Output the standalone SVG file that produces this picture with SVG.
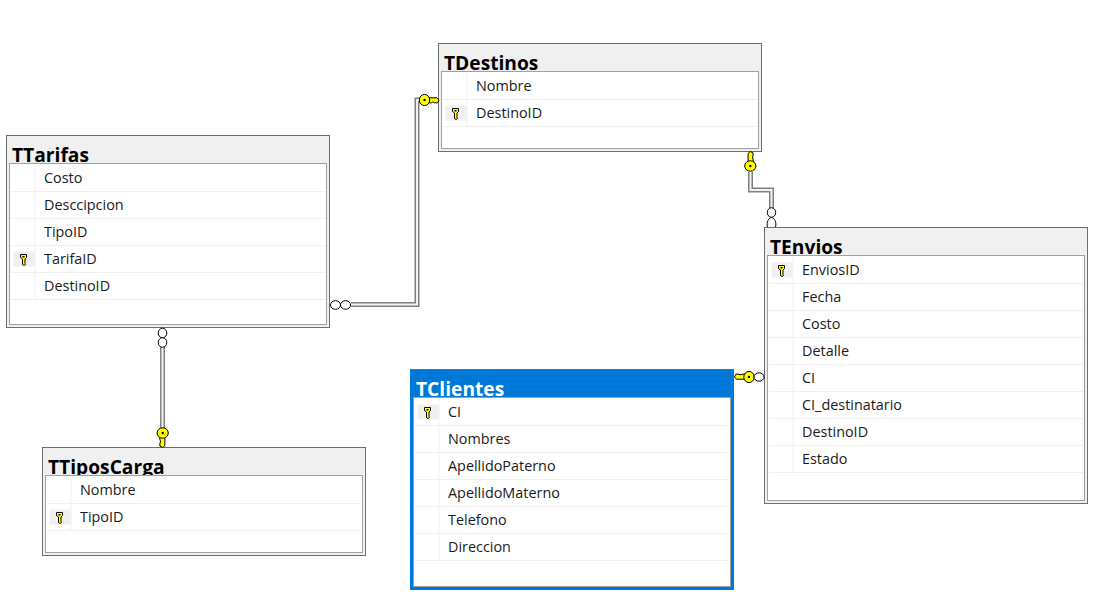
<svg xmlns="http://www.w3.org/2000/svg" width="1110" height="602" viewBox="0 0 1110 602">
<style>
.outer{fill:#f0f0f0;stroke:#6e6e6e;stroke-width:1}
.frame{fill:#fff;stroke:#a0a0a0;stroke-width:1}
.sep{stroke:#f0f0f0;stroke-width:1;fill:none}
.title{font-family:"Open Sans","Noto Sans",sans-serif;font-weight:700;font-size:19.2px;fill:#000}
.row{font-family:"Open Sans","Noto Sans",sans-serif;font-size:14.4px;fill:#1a1a1a}
.k{fill:#ffff00;stroke:#000;stroke-width:1}
.o{fill:#fff;stroke:#000;stroke-width:1}
.c1{fill:none;stroke:#808080;stroke-width:5}
.c2{fill:none;stroke:#f2f2f2;stroke-width:2}
</style>
<defs>
<g id="key"><path class="k" d="M3,-2.2H12.5L14.5,0L13,2.8H10L9,2.2H8L7,2.8H3Z"/><ellipse class="k" rx="5.2" ry="5.6"/><circle r="1.2" fill="#000"/></g>
<g id="rowkey"><rect x="-10" y="-7.5" width="21" height="15" fill="#f0f0f0"/><path class="k" d="M-3,-4.5H3V-1.5L1.5,0V4.5L2,5.5L.5,6.5L-1,5.5V0L-3,-1.5Z"/><rect x="-1" y="-3" width="2" height="1.5" fill="#000"/></g>
</defs>
<g id="connectors">
<path class="c1" d="M351,304.5H417V100H420"/><path class="c2" d="M351,304.5H417V100H420"/>
<path class="c1" d="M750.5,172V190H771.5V208"/><path class="c2" d="M750.5,172V190H771.5V208"/>
<path class="c1" d="M162.5,347V428"/><path class="c2" d="M162.5,347V428"/>
</g>
<g id="TDestinos" transform="translate(438.5,43.5)">
<rect class="outer" width="323" height="108"/>
<text class="title" x="5.5" y="26.5">TDestinos</text>
<rect class="frame" x="3" y="28" width="317" height="77"/>
<path class="sep" d="M4,56H319M4,83H319M28.5,29V83"/>
<text class="row" x="37.5" y="47.5">Nombre</text>
<text class="row" x="37.5" y="74.5">DestinoID</text>
<use href="#rowkey" x="17" y="69.5"/>
</g>
<g id="TTarifas" transform="translate(6.5,135.5)">
<rect class="outer" width="323" height="192"/>
<text class="title" x="5.5" y="26.5">TTarifas</text>
<rect class="frame" x="3" y="28" width="317" height="161"/>
<path class="sep" d="M4,56H319M4,83H319M4,110H319M4,137H319M4,164H319M28.5,29V164"/>
<text class="row" x="37.5" y="47.5">Costo</text>
<text class="row" x="37.5" y="74.5">Desccipcion</text>
<text class="row" x="37.5" y="101.5">TipoID</text>
<text class="row" x="37.5" y="128.5">TarifaID</text>
<text class="row" x="37.5" y="155.5">DestinoID</text>
<use href="#rowkey" x="17" y="123.5"/>
</g>
<g id="TTiposCarga" transform="translate(42.5,447.5)">
<rect class="outer" width="323" height="108"/>
<text class="title" x="5.5" y="26.5">TTiposCarga</text>
<rect class="frame" x="3" y="28" width="317" height="77"/>
<path class="sep" d="M4,56H319M4,83H319M28.5,29V83"/>
<text class="row" x="37.5" y="47.5">Nombre</text>
<text class="row" x="37.5" y="74.5">TipoID</text>
<use href="#rowkey" x="17" y="69.5"/>
</g>
<g id="TClientes" transform="translate(410.5,369.5)">
<rect width="323" height="220" fill="#0078d7" stroke="#0078d7"/>
<path d="M0,0H323" stroke="#6e6e6e" fill="none"/>
<text class="title" x="5.5" y="26.5" style="fill:#fff">TClientes</text>
<rect class="frame" x="3" y="28" width="317" height="189"/>
<path class="sep" d="M4,56H319M4,83H319M4,110H319M4,137H319M4,164H319M4,191H319M28.5,29V191"/>
<text class="row" x="37.5" y="47.5">CI</text>
<text class="row" x="37.5" y="74.5">Nombres</text>
<text class="row" x="37.5" y="101.5">ApellidoPaterno</text>
<text class="row" x="37.5" y="128.5">ApellidoMaterno</text>
<text class="row" x="37.5" y="155.5">Telefono</text>
<text class="row" x="37.5" y="182.5">Direccion</text>
<use href="#rowkey" x="17" y="42.5"/>
</g>
<g id="TEnvios" transform="translate(764.5,227.5)">
<rect class="outer" width="323" height="276"/>
<text class="title" x="5.5" y="26.5">TEnvios</text>
<rect class="frame" x="3" y="28" width="317" height="245"/>
<path class="sep" d="M4,56H319M4,83H319M4,110H319M4,137H319M4,164H319M4,191H319M4,218H319M4,245H319M28.5,29V245"/>
<text class="row" x="37.5" y="47.5">EnviosID</text>
<text class="row" x="37.5" y="74.5">Fecha</text>
<text class="row" x="37.5" y="101.5">Costo</text>
<text class="row" x="37.5" y="128.5">Detalle</text>
<text class="row" x="37.5" y="155.5">CI</text>
<text class="row" x="37.5" y="182.5">CI_destinatario</text>
<text class="row" x="37.5" y="209.5">DestinoID</text>
<text class="row" x="37.5" y="236.5">Estado</text>
<use href="#rowkey" x="17" y="42.5"/>
</g>
<g id="connector-ends">
<use href="#key" transform="translate(424.5,100)"/>
<use href="#key" transform="translate(750.3,166) rotate(-90)"/>
<use href="#key" transform="translate(749,377) rotate(180)"/>
<use href="#key" transform="translate(162.7,433) rotate(90)"/>
<ellipse class="o" cx="335.5" cy="305" rx="5" ry="4.3"/><ellipse class="o" cx="345.5" cy="305" rx="5" ry="4.3"/>
<ellipse class="o" cx="162.5" cy="333" rx="4.3" ry="4.8"/><ellipse class="o" cx="162.5" cy="342.5" rx="4.3" ry="4.8"/>
<ellipse class="o" cx="771.5" cy="212.5" rx="4.2" ry="4.8"/><path class="o" d="M767.5,227C766,222 769,217.5 771.5,217.5C774,217.5 777,222 775.5,227"/>
<ellipse class="o" cx="759" cy="377" rx="5" ry="4.2"/>
</g>
</svg>
